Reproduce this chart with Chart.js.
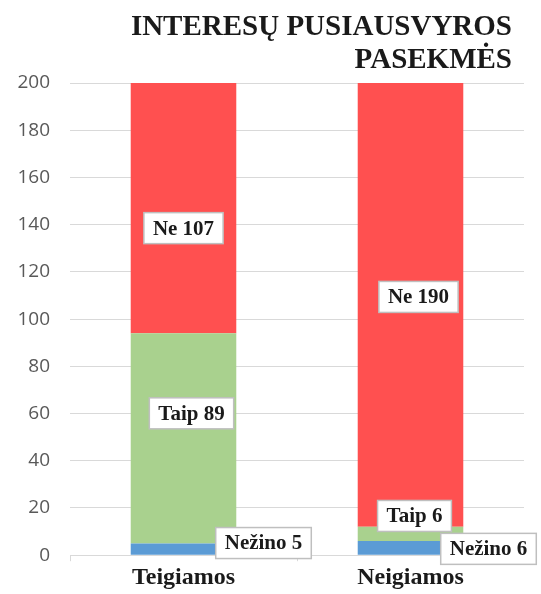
<!DOCTYPE html>
<html>
<head>
<meta charset="utf-8">
<script src="https://cdn.jsdelivr.net/npm/chart.js@4.4.1/dist/chart.umd.min.js"></script>
<style>
  html, body { margin: 0; padding: 0; background: #fff; }
  #wrap { width: 541px; height: 594px; }
</style>
</head>
<body>
<div id="wrap"><canvas id="chartCanvas"></canvas></div>
<script>
// chart data
const categories = ['Teigiamos', 'Neigiamos'];
const seriesNames = ['Nežino', 'Taip', 'Ne'];
const nezino = [5, 6];
const taip = [89, 6];
const ne = [107, 190];
const yTicks = [0, 20, 40, 60, 80, 100, 120, 140, 160, 180, 200];
const titleLines = ['INTERESŲ PUSIAUSVYROS', 'PASEKMĖS'];

const serif = '"Liberation Serif", "Times New Roman", serif';

// label nudges (px), per series then per category, like Excel moved them
const labelOffsets = [
    [[80, -6], [78, 1]],
    [[8, -25], [4, -18]],
    [[0, 20], [8, -8]]
];

// title drawn by hand so it can sit apart from the plot's right edge
const rightTitle = {
    id: 'rightTitle',
    afterDraw(chart) {
        const ctx = chart.ctx;
        ctx.save();
        ctx.font = 'bold 29px ' + serif;
        ctx.fillStyle = '#1a1a1a';
        ctx.textAlign = 'right';
        ctx.textBaseline = 'alphabetic';
        titleLines.forEach(function(line, i) {
            ctx.fillText(line, 512, 35 + i * 33);
        });
        ctx.restore();
    }
};

// white boxed labels on each segment
const boxLabels = {
    id: 'boxLabels',
    afterDatasetsDraw(chart) {
        const ctx = chart.ctx;
        const area = chart.chartArea;
        ctx.save();
        ctx.font = 'bold 21px ' + serif;
        ctx.textAlign = 'center';
        ctx.textBaseline = 'middle';
        chart.data.datasets.forEach(function(ds, di) {
            chart.getDatasetMeta(di).data.forEach(function(bar, i) {
                const top = Math.max(bar.y, area.top);
                const x = bar.x + labelOffsets[di][i][0];
                const y = (top + bar.base) / 2 + labelOffsets[di][i][1];
                const text = ds.label + ' ' + ds.data[i];
                const w = ctx.measureText(text).width + 18;
                const h = 31;
                ctx.fillStyle = '#ffffff';
                ctx.fillRect(x - w / 2, y - h / 2, w, h);
                ctx.strokeStyle = '#bfbfbf';
                ctx.lineWidth = 1.5;
                ctx.strokeRect(x - w / 2, y - h / 2, w, h);
                ctx.fillStyle = '#1a1a1a';
                ctx.fillText(text, x, y + 1);
            });
        });
        ctx.restore();
    }
};

document.addEventListener('DOMContentLoaded', function() {
    const ctx = document.getElementById('chartCanvas').getContext('2d');
    new Chart(ctx, {
        type: 'bar',
        data: {
            labels: categories,
            datasets: [
                { label: seriesNames[0], data: nezino, backgroundColor: '#5b9bd5' },
                { label: seriesNames[1], data: taip, backgroundColor: '#a9d18e' },
                { label: seriesNames[2], data: ne, backgroundColor: '#ff5050' }
            ]
        },
        options: {
            responsive: true,
            maintainAspectRatio: false,
            animation: false,
            barPercentage: 0.465,
            categoryPercentage: 1,
            layout: { padding: { left: 14, right: 17, top: 83, bottom: 0 } },
            plugins: {
                legend: { display: false },
                tooltip: { enabled: false }
            },
            scales: {
                x: {
                    stacked: true,
                    grid: { drawOnChartArea: false, tickLength: 6, color: '#d9d9d9' },
                    border: { color: '#d9d9d9' },
                    ticks: { color: '#1a1a1a', font: { family: serif, size: 24, weight: 'bold' }, padding: 2 }
                },
                y: {
                    stacked: true,
                    min: yTicks[0],
                    max: yTicks[yTicks.length - 1],
                    afterFit: function(scale) { scale.width = 56; },
                    ticks: { stepSize: yTicks[1] - yTicks[0], color: '#595959', font: { family: '"Open Sans", sans-serif', size: 19 }, padding: 20 },
                    grid: { color: '#d9d9d9', drawTicks: false },
                    border: { display: false }
                }
            }
        },
        plugins: [boxLabels, rightTitle]
    });
});
</script>
</body>
</html>
